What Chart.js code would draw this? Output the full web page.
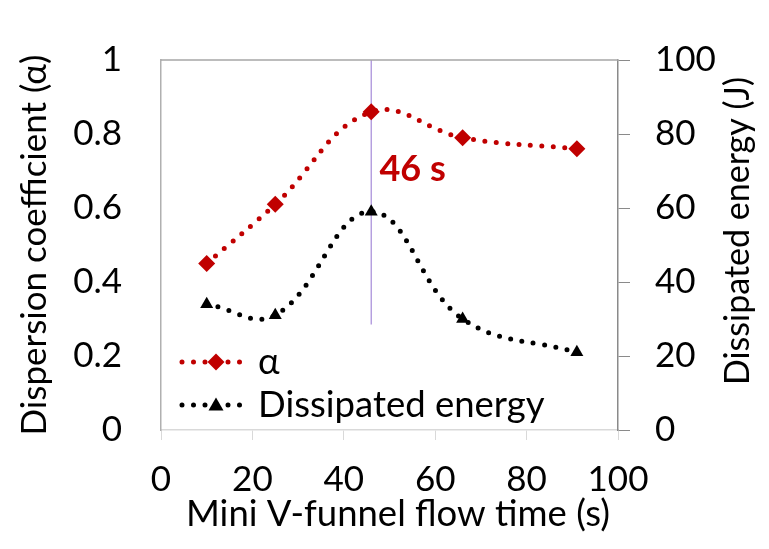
<!DOCTYPE html>
<html>
<head>
<meta charset="utf-8">
<script src="https://cdn.jsdelivr.net/npm/chart.js@4.4.1/dist/chart.umd.min.js"></script>
<style>
  body { margin: 0; background: #fff; }
  #wrap { width: 769px; height: 549px; position: relative; }
</style>
</head>
<body>
<div id="wrap"><canvas id="chart"></canvas></div>
<script>
// Data
const flowTimes = [10, 25, 46, 66, 91];
const alphaValues = [0.45, 0.61, 0.86, 0.79, 0.76];
const energyValues = [34, 31, 59, 30, 21];
const markTime = 46;
const markRange = [1, 0.285];
const markLabel = '46 s';

const FONT = 'Lato, "Open Sans", sans-serif';
const RED = '#c00000';
const TICK_SIZE = 35;
const TITLE_SIZE = 36.5;

// Legend, top border, axis titles and the "46 s" note
const extras = {
    id: 'extras',
    afterDraw(chart) {
        const ctx = chart.ctx;
        const area = chart.chartArea;
        const xs = chart.scales.x;
        const ys = chart.scales.y;

        ctx.save();
        // plot top border
        ctx.strokeStyle = '#a6a6a6';
        ctx.lineWidth = 1.5;
        ctx.beginPath();
        ctx.moveTo(area.left, area.top);
        ctx.lineTo(area.right, area.top);
        ctx.stroke();

        // note next to the vertical line
        ctx.fillStyle = RED;
        ctx.font = 'bold 36px ' + FONT;
        ctx.textBaseline = 'middle';
        ctx.textAlign = 'left';
        ctx.fillText(markLabel, xs.getPixelForValue(47.8), ys.getPixelForValue(0.705));

        // x axis title
        ctx.fillStyle = '#000';
        ctx.font = TITLE_SIZE + 'px ' + FONT;
        ctx.textAlign = 'center';
        ctx.fillText('Mini V-funnel flow time (s)', 398, 514);

        // right axis title (reads bottom to top)
        ctx.font = '34px ' + FONT;
        ctx.translate(738, 231);
        ctx.rotate(-Math.PI / 2);
        ctx.fillText('Dissipated energy (J)', 0, 0);
        ctx.restore();

        // legend inside plot
        const items = [
            { text: 'α', color: RED, style: 'diamond', y: 362 },
            { text: 'Dissipated energy', color: '#000', style: 'triangle', y: 405 }
        ];
        items.forEach(it => {
            ctx.save();
            ctx.strokeStyle = it.color;
            ctx.lineWidth = 5;
            ctx.lineCap = 'round';
            ctx.setLineDash([0, 11.5]);
            ctx.beginPath();
            ctx.moveTo(182, it.y);
            ctx.lineTo(248, it.y);
            ctx.stroke();
            ctx.setLineDash([]);
            ctx.fillStyle = it.color;
            ctx.beginPath();
            const cx = 216, cy = it.y;
            if (it.style === 'diamond') {
                ctx.moveTo(cx, cy - 8.5); ctx.lineTo(cx + 8.5, cy);
                ctx.lineTo(cx, cy + 8.5); ctx.lineTo(cx - 8.5, cy);
            } else {
                ctx.moveTo(cx, cy - 7.5); ctx.lineTo(cx + 7.5, cy + 5.5);
                ctx.lineTo(cx - 7.5, cy + 5.5);
            }
            ctx.closePath();
            ctx.fill();
            ctx.fillStyle = '#000';
            ctx.font = TITLE_SIZE + 'px ' + FONT;
            ctx.textBaseline = 'middle';
            ctx.fillText(it.text, 258, it.y);
            ctx.restore();
        });
    }
};

new Chart(document.getElementById('chart'), {
    type: 'line',
    data: {
        datasets: [
            {
                label: 'α',
                data: flowTimes.map((t, i) => ({ x: t, y: alphaValues[i] })),
                yAxisID: 'y',
                borderColor: RED,
                backgroundColor: RED,
                borderWidth: 5,
                borderDash: [0, 11.5],
                borderCapStyle: 'round',
                tension: 0.4,
                pointStyle: 'rectRot',
                pointRadius: 8.5,
                pointBorderWidth: 0,
                order: 1
            },
            {
                label: 'Dissipated energy',
                data: flowTimes.map((t, i) => ({ x: t, y: energyValues[i] })),
                yAxisID: 'y1',
                borderColor: '#000',
                backgroundColor: '#000',
                borderWidth: 5,
                borderDash: [0, 11.5],
                borderCapStyle: 'round',
                tension: 0.4,
                pointStyle: 'triangle',
                pointRadius: 7.5,
                pointBorderWidth: 0,
                order: 2
            },
            {
                label: 'mark',
                data: markRange.map(v => ({ x: markTime, y: v })),
                yAxisID: 'y',
                borderColor: '#a58ad8',
                borderWidth: 1.2,
                pointRadius: 0,
                tension: 0,
                order: 10
            }
        ]
    },
    options: {
        responsive: true,
        maintainAspectRatio: false,
        animation: false,
        layout: { padding: { top: 24, left: 0, right: 0, bottom: 0 } },
        plugins: {
            legend: { display: false },
            tooltip: { enabled: false }
        },
        scales: {
            x: {
                type: 'linear',
                min: 0,
                max: 100,
                ticks: { stepSize: 20, color: '#000', font: { family: FONT, size: TICK_SIZE }, padding: 19 },
                grid: { drawOnChartArea: false, drawTicks: true, tickLength: 10, tickColor: '#d9d9d9' },
                border: { color: '#d9d9d9', width: 1.5 },
                afterFit(scale) { scale.height = 119; }
            },
            y: {
                position: 'left',
                min: 0,
                max: 1,
                ticks: {
                    stepSize: 0.2,
                    color: '#000',
                    font: { family: FONT, size: TICK_SIZE },
                    padding: 39,
                    callback: v => String(Number(v.toFixed(1)))
                },
                grid: { drawOnChartArea: false, drawTicks: false },
                border: { color: '#b0b0b0', width: 1.5 },
                title: {
                    display: true,
                    text: 'Dispersion coefficient (α)',
                    color: '#000',
                    font: { family: FONT, size: 35 },
                    padding: { top: 14, bottom: 0 }
                },
                afterFit(scale) { scale.width = 161; }
            },
            y1: {
                position: 'right',
                min: 0,
                max: 100,
                ticks: { stepSize: 20, color: '#000', font: { family: FONT, size: TICK_SIZE }, padding: 25 },
                grid: { drawOnChartArea: false, drawTicks: true, tickLength: 12, tickColor: '#8a8a8a' },
                border: { color: '#8a8a8a', width: 1.5 },
                afterFit(scale) { scale.width = 151; }
            }
        }
    },
    plugins: [extras]
});
</script>
</body>
</html>
